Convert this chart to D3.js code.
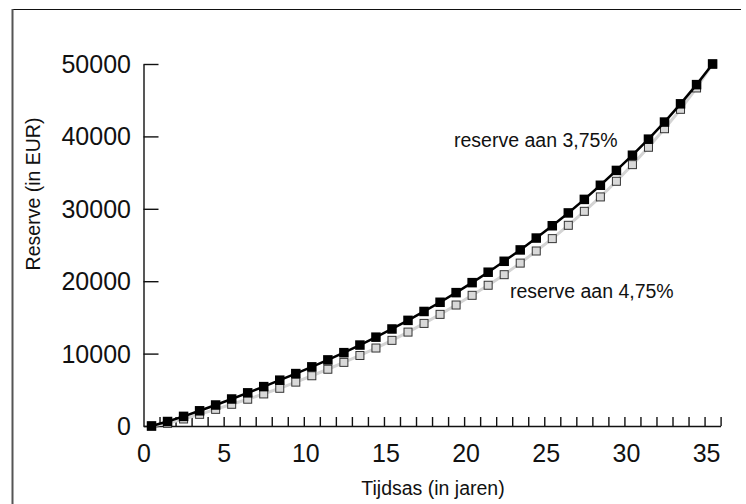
<!DOCTYPE html>
<html><head><meta charset="utf-8">
<script src="https://cdn.jsdelivr.net/npm/d3@7"></script>
<style>
body{margin:0;background:#fff}
svg{display:block}
text{font-family:"Liberation Sans",Arial,Helvetica,sans-serif;fill:#111}
</style>
</head><body>
<svg id="c" width="746" height="504"></svg>
<script>
// ---- data ----
const years = [0.5,1.5,2.5,3.5,4.5,5.5,6.5,7.5,8.5,9.5,10.5,11.5,12.5,13.5,14.5,15.5,16.5,17.5,18.5,19.5,20.5,21.5,22.5,23.5,24.5,25.5,26.5,27.5,28.5,29.5,30.5,31.5,32.5,33.5,34.5,35.5];
const reserve375 = [0,620,1330,2100,2900,3730,4580,5440,6330,7240,8170,9130,10130,11180,12270,13400,14590,15820,17090,18420,19800,21240,22750,24320,25960,27660,29430,31300,33250,35300,37400,39620,41980,44500,47150,50000];
const reserve475 = [0,370,970,1610,2300,3000,3700,4430,5210,6060,6940,7840,8790,9740,10770,11830,12970,14170,15420,16710,18050,19440,20900,22500,24170,25880,27720,29650,31640,33800,36100,38500,41060,43740,46690,50000];
const xTickLabels = [0,5,10,15,20,25,30,35];
const xMinorTicks = [1,2,3,4,5,6,7,8,9,10,11,12,13,14,15,16,17,18,19,20,21,22,23,24,25,26,27,28,29,30,31,32,33,34,35,36];
const yTickLabels = [0,10000,20000,30000,40000,50000];
const seriesNames = ["reserve aan 3,75%","reserve aan 4,75%"];
const xTitle = "Tijdsas (in jaren)";
const yTitle = "Reserve (in EUR)";

// ---- drawing ----
const svg = d3.select("#c");
const x = d3.scaleLinear().domain([0,36]).range([143.5,720.6]);
const y = d3.scaleLinear().domain([0,50000]).range([426,64]);

// frame
svg.append("line").attr("x1",12).attr("x2",741).attr("y1",9.5).attr("y2",9.5).attr("stroke","#111").attr("stroke-width",1.2);
svg.append("line").attr("x1",12.5).attr("x2",12.5).attr("y1",9).attr("y2",504).attr("stroke","#555").attr("stroke-width",2);

// axes
svg.append("g").attr("transform","translate(0,426)")
  .call(d3.axisTop(x).tickValues(xMinorTicks).tickSize(9).tickSizeOuter(0).tickFormat(""));
svg.append("g").attr("transform","translate(143.5,0)")
  .call(d3.axisRight(y).tickValues(yTickLabels).tickSize(15).tickSizeOuter(0).tickFormat(""));
svg.selectAll(".domain, .tick line").attr("stroke","#111").attr("stroke-width",1.4);

// tick labels
xTickLabels.forEach(v=>{
  svg.append("text").attr("x",x(v)+ (v>=10?2:0.5)).attr("y",462).attr("text-anchor","middle")
    .attr("font-size",25).text(v);
});
yTickLabels.forEach(v=>{
  svg.append("text").attr("x",131).attr("y",y(v)+9).attr("text-anchor","end")
    .attr("font-size",25).text(v);
});

// titles
svg.append("text").attr("x",433).attr("y",495).attr("text-anchor","middle").attr("font-size",19.5).text(xTitle);
svg.append("text").attr("transform","translate(40,194) rotate(-90)").attr("text-anchor","middle").attr("font-size",19.5).text(yTitle);

// series
const line = d3.line().x((d,i)=>x(years[i])).y(d=>y(d));
svg.append("path").datum(reserve475).attr("d",line).attr("fill","none").attr("stroke","#d4d4d4").attr("stroke-width",3);
svg.selectAll(".m475").data(reserve475).enter().append("rect")
  .attr("x",(d,i)=>x(years[i])-4).attr("y",d=>y(d)-4).attr("width",8).attr("height",8)
  .attr("fill","#d9d9d9").attr("stroke","#333").attr("stroke-width",1);
svg.append("path").datum(reserve375).attr("d",line).attr("fill","none").attr("stroke","#000").attr("stroke-width",2.5);
svg.selectAll(".m375").data(reserve375).enter().append("rect")
  .attr("x",(d,i)=>x(years[i])-4.75).attr("y",d=>y(d)-4.75).attr("width",9.5).attr("height",9.5)
  .attr("fill","#000");

// series labels
svg.append("text").attr("x",454).attr("y",147).attr("font-size",19.5).text(seriesNames[0]);
svg.append("text").attr("x",510).attr("y",298).attr("font-size",19.5).text(seriesNames[1]);
</script>
</body></html>
